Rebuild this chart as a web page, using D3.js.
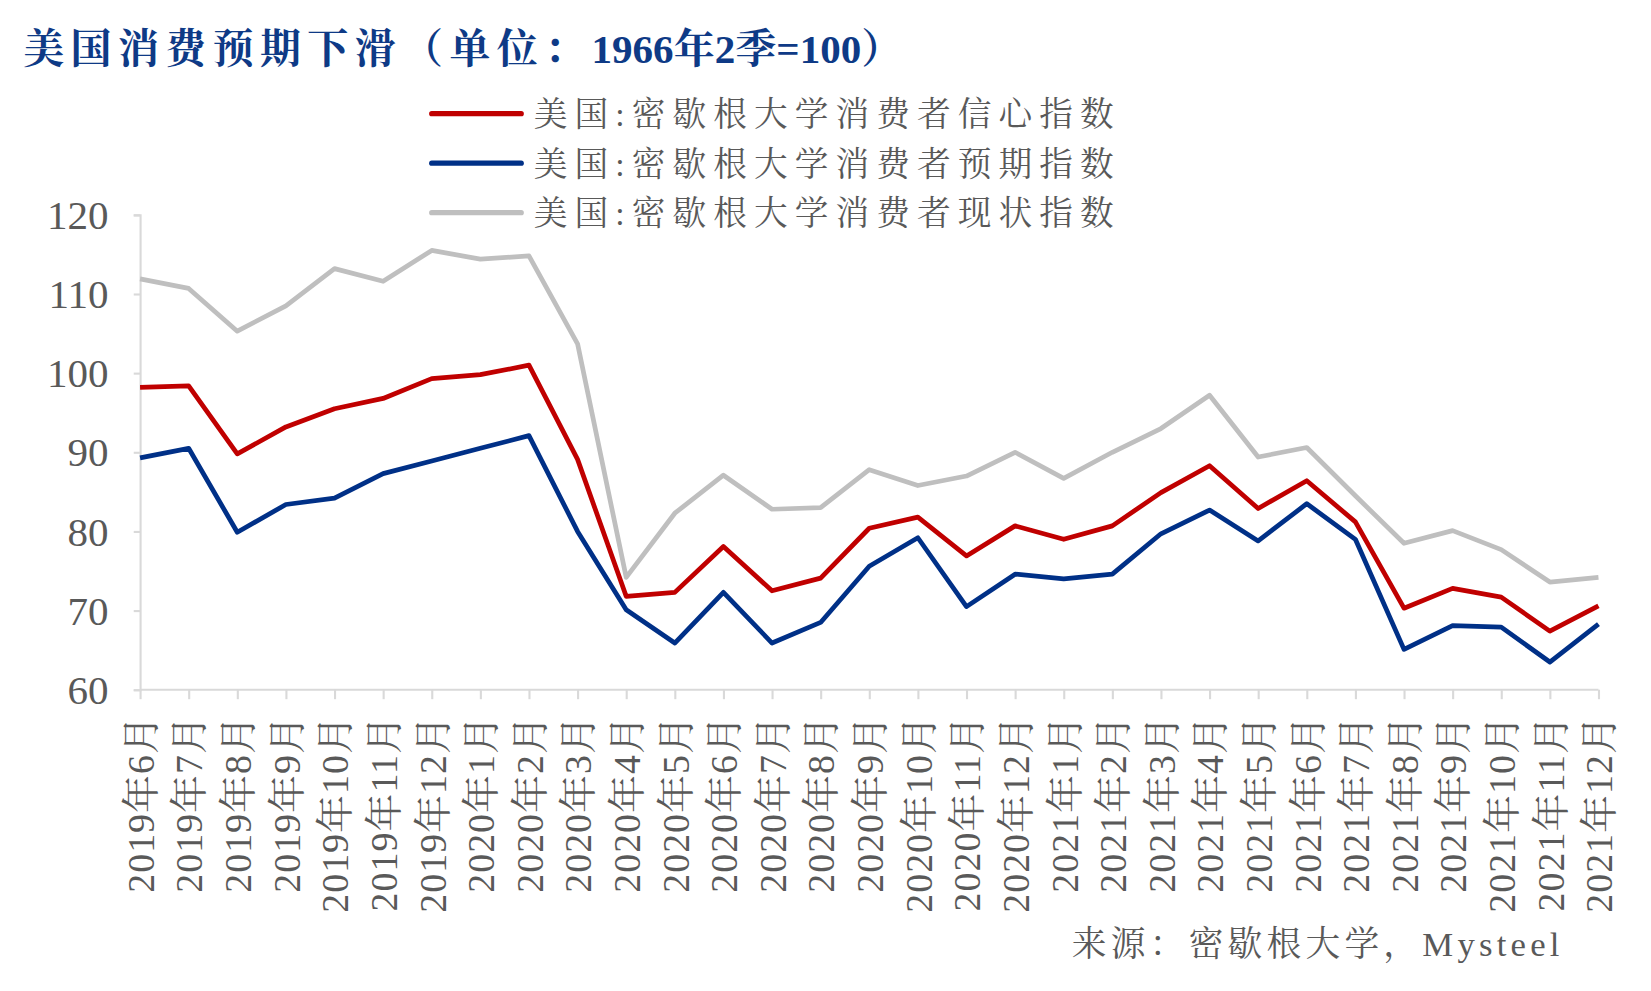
<!DOCTYPE html>
<html><head><meta charset="utf-8">
<script src="https://cdn.jsdelivr.net/npm/d3@7"></script>
<style>body{margin:0;background:#fff}</style>
</head><body><svg id="c" width="1651" height="991"></svg>
<script>
const months = ["2019年6月","2019年7月","2019年8月","2019年9月","2019年10月","2019年11月","2019年12月","2020年1月","2020年2月","2020年3月","2020年4月","2020年5月","2020年6月","2020年7月","2020年8月","2020年9月","2020年10月","2020年11月","2020年12月","2021年1月","2021年2月","2021年3月","2021年4月","2021年5月","2021年6月","2021年7月","2021年8月","2021年9月","2021年10月","2021年11月","2021年12月"];
const sentiment = [98.2,98.4,89.8,93.2,95.5,96.8,99.3,99.8,101.0,89.1,71.8,72.3,78.1,72.5,74.1,80.4,81.8,76.9,80.7,79.0,80.7,84.9,88.3,82.9,86.4,81.2,70.3,72.8,71.7,67.4,70.6];
const expectations = [89.3,90.5,79.9,83.4,84.2,87.3,88.9,90.5,92.1,80.0,70.1,65.9,72.3,65.9,68.5,75.6,79.2,70.5,74.6,74.0,74.6,79.7,82.7,78.8,83.5,79.0,65.1,68.1,67.9,63.5,68.3];
const current = [111.9,110.7,105.3,108.5,113.2,111.6,115.5,114.4,114.8,103.7,74.2,82.3,87.1,82.8,83.0,87.8,85.8,87.0,90.0,86.7,90.0,93.0,97.2,89.4,90.6,84.5,78.5,80.1,77.7,73.6,74.2];
const yTicks = [60,70,80,90,100,110,120];
const series = [
  {name:"美国:密歇根大学消费者信心指数", values:sentiment, color:"#C00000"},
  {name:"美国:密歇根大学消费者预期指数", values:expectations, color:"#003087"},
  {name:"美国:密歇根大学消费者现状指数", values:current, color:"#BFBFBF"}
];
const font = "'Liberation Serif','Times New Roman','Noto Serif CJK SC','Noto Sans CJK SC',serif";
const svg = d3.select("#c").append("g").attr("transform","scale(1.053)");
const x = d3.scalePoint().domain(months).range([133,1518]);
const y = d3.scaleLinear().domain([60,120]).range([655,204]);

const title = svg.append("text").attr("x",22).attr("y",60).attr("font-family",font).attr("font-size",39)
  .attr("font-weight","bold").attr("fill","#0E3A86");
title.append("tspan").attr("letter-spacing",6).text("美国消费预期下滑（单位：");
title.append("tspan").attr("letter-spacing",0).text("1966年2季=100）");

// y axis
const ya = svg.append("g").attr("transform","translate(133,0)")
  .call(d3.axisLeft(y).tickValues(yTicks).tickSize(6).tickPadding(24));
ya.select(".domain").attr("stroke","#d9d9d9").attr("stroke-width",2);
ya.selectAll("line").attr("stroke","#d9d9d9").attr("stroke-width",2);
ya.selectAll("text").attr("font-family",font).attr("font-size",39).attr("fill","#595959").attr("dy","0.33em");

// x axis
const xa = svg.append("g").attr("transform","translate(0,655)")
  .call(d3.axisBottom(x).tickSize(9).tickSizeOuter(0));
xa.select(".domain").attr("stroke","#d9d9d9").attr("stroke-width",2).attr("d","M133,0H1518");
xa.selectAll("line").attr("stroke","#d9d9d9").attr("stroke-width",2);
xa.selectAll("text").attr("font-family",font).attr("font-size",36).attr("fill","#595959")
  .attr("transform","rotate(-90)").attr("text-anchor","end").attr("x",-24).attr("y",0).attr("dy","0.35em")
  .attr("letter-spacing",1);

const line = d3.line().x((d,i)=>x(months[i])).y(d=>y(d));
[2,1,0].forEach(k=>{
  svg.append("path").datum(series[k].values).attr("d",line).attr("fill","none")
    .attr("stroke",series[k].color).attr("stroke-width",4.5).attr("stroke-linejoin","round");
});

// legend
series.forEach((s,i)=>{
  const ly = 108 + i*47;
  svg.append("line").attr("x1",410).attr("x2",495).attr("y1",ly).attr("y2",ly)
    .attr("stroke",s.color).attr("stroke-width",5).attr("stroke-linecap","round");
  svg.append("text").attr("x",507).attr("y",ly+12).attr("font-family",font).attr("font-size",32)
    .attr("fill","#595959").attr("letter-spacing",6.7).text(s.name);
});

svg.append("text").attr("x",1485).attr("y",908).attr("text-anchor","end").attr("font-family",font)
  .attr("font-size",33).attr("fill","#595959").attr("letter-spacing",4).text("来源：密歇根大学，Mysteel");
</script></body></html>
